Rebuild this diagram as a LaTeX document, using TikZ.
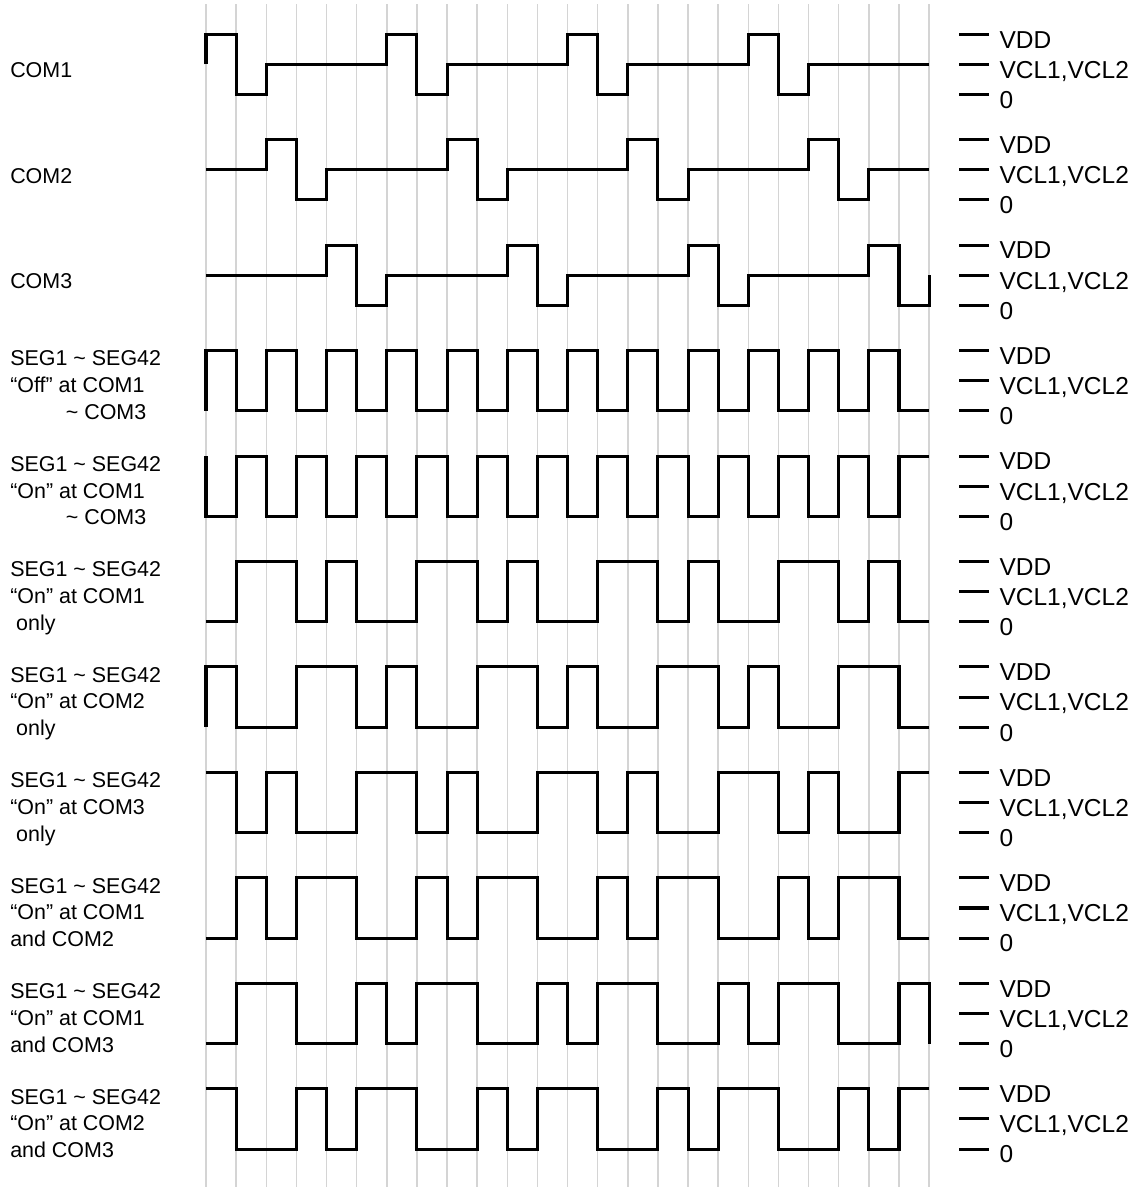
\documentclass[tikz,border=0pt]{standalone}
\usepackage{fontspec}
\setmainfont{Liberation Sans}

% one row of a drive waveform: base y, start level, 6-slot period, end level
\newcommand{\wave}[4]{%
    \draw[wave] (0,#1+#2)
        \foreach \p in {0,6,12,18}{
            \foreach \l [count=\k from 0] in {#3}{ -- (\p+\k,#1+\l) -- (\p+\k+1,#1+\l) }
        } -- (24,#1+#4);
}

\begin{document}
\begin{tikzpicture}[x=0.8cm,y=0.8cm,
    grid/.style={black!17,line width=1.1pt},
    wave/.style={line width=2.3pt},
    lvltick/.style={line width=2.3pt},
    lvl/.style={anchor=base west,inner sep=0pt,font=\fontsize{18.5}{21}\selectfont},
    sig/.style={anchor=north west,inner sep=0pt,align=left,font=\fontsize{16.2}{20.2}\selectfont}]
    \useasboundingbox (-6.837,3.136) rectangle (31.13,-36.26);

    % time grid
    \foreach \x in {0,...,24}
        \draw[grid] (\x,3.0) -- (\x,-36.26);

    % level marks on the right
    \foreach \r in {1,...,11}{
        \pgfmathsetmacro\y{-3.5*(\r-1)}
        \draw[lvltick] (25,\y+2) -- (26,\y+2);
        \draw[lvltick] (25,\y+1) -- (26,\y+1);
        \draw[lvltick] (25,\y) -- (26,\y);
        \node[lvl] (vdd\r) at (26.33,\y+2-0.46) {VDD};
        \node[lvl] (vcl\r) at (26.33,\y+1-0.46) {VCL1,VCL2};
        \node[lvl] (gnd\r) at (26.33,\y-0.46) {0};
    }

    % commons
    \wave{0}{1}{2,0,1,1,1,1}{1}
    \wave{-3.5}{1}{1,1,2,0,1,1}{1}
    \wave{-7}{1}{1,1,1,1,2,0}{1}
    % segments
    \wave{-10.5}{0}{2,0,2,0,2,0}{0}
    \wave{-14}{2}{0,2,0,2,0,2}{2}
    \wave{-17.5}{0}{0,2,2,0,2,0}{0}
    \wave{-21}{0}{2,0,0,2,2,0}{0}
    \wave{-24.5}{2}{2,0,2,0,0,2}{2}
    \wave{-28}{0}{0,2,0,2,2,0}{0}
    \wave{-31.5}{0}{0,2,2,0,0,2}{0}
    \wave{-35}{2}{2,0,0,2,0,2}{2}

    % signal names
    \node[sig,anchor=west] (com1) at (-6.505,0.8) {COM1};
    \node[sig,anchor=west] (com2) at (-6.505,-2.7) {COM2};
    \node[sig,anchor=west] (com3) at (-6.505,-6.2) {COM3};
    \node[sig] (segoff) at (-6.505,-8.5) {SEG1 \textasciitilde{} SEG42\\“Off” at COM1\\\hspace*{42pt}\textasciitilde{} COM3};
    \node[sig] (segall) at (-6.505,-12) {SEG1 \textasciitilde{} SEG42\\“On” at COM1\\\hspace*{42pt}\textasciitilde{} COM3};
    \node[sig] (segc1) at (-6.505,-15.5) {SEG1 \textasciitilde{} SEG42\\“On” at COM1\\\hspace*{4.5pt}only};
    \node[sig] (segc2) at (-6.505,-19) {SEG1 \textasciitilde{} SEG42\\“On” at COM2\\\hspace*{4.5pt}only};
    \node[sig] (segc3) at (-6.505,-22.5) {SEG1 \textasciitilde{} SEG42\\“On” at COM3\\\hspace*{4.5pt}only};
    \node[sig] (segc12) at (-6.505,-26) {SEG1 \textasciitilde{} SEG42\\“On” at COM1\\and COM2};
    \node[sig] (segc13) at (-6.505,-29.5) {SEG1 \textasciitilde{} SEG42\\“On” at COM1\\and COM3};
    \node[sig] (segc23) at (-6.505,-33) {SEG1 \textasciitilde{} SEG42\\“On” at COM2\\and COM3};
\end{tikzpicture}
\end{document}
